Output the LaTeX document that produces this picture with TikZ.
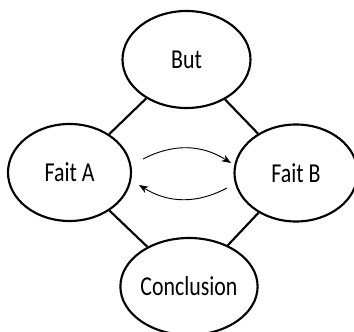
\documentclass[tikz,border=0pt]{standalone}
\usepackage{fontspec}
\setmainfont{Carlito}[FakeStretch=0.8]
\usepackage{tikz}
\usetikzlibrary{arrows.meta, positioning, shapes.geometric}

\begin{document}
\begin{tikzpicture}[x=0.75pt, y=0.75pt,
    bulle/.style={ellipse, draw, line width=1.6pt, inner sep=0pt, minimum height=72.75pt, font=\fontsize{20.5}{24}\selectfont},
    lien/.style={line width=1.6pt},
    fleche/.style={-{Stealth[length=7pt, width=5.5pt]}, line width=0.7pt}]
  \useasboundingbox (0,0) rectangle (354,332);

  % --- Ellipses ---
  \node[bulle, minimum width=96pt] (but) at (186.5,272.5) {But};
  \node[bulle, minimum width=92.25pt] (faita) at (69.5,159.5) {Fait A};
  \node[bulle, minimum width=92.25pt] (faitb) at (296,159) {Fait B};
  \node[bulle, minimum width=84.75pt] (conclusion) at (189,45.5) {Conclusion};

  % --- Liens ---
  \draw[lien] (but) -- (faita);
  \draw[lien] (but) -- (faitb);
  \draw[lien] (faita) -- (conclusion);
  \draw[lien] (faitb) -- (conclusion);

  % --- Aller-retour entre les faits ---
  \draw[fleche] ([shift={(11,13.5)}]faita.east) to[bend left=30] ([shift={(-2.5,10)}]faitb.west);
  \draw[fleche] ([shift={(-6.5,-15)}]faitb.west) to[bend left=30] ([shift={(7,-12.5)}]faita.east);
\end{tikzpicture}
\end{document}
